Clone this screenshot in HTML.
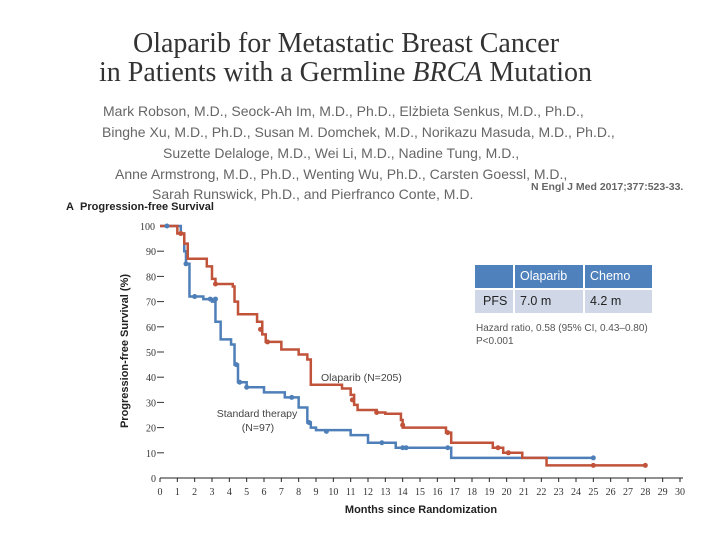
<!DOCTYPE html>
<html><head><meta charset="utf-8"><style>
body{margin:0;background:#fff;}
#wrap{position:relative;width:720px;height:540px;overflow:hidden;background:#fff;font-family:"Liberation Sans",sans-serif;}
.t{position:absolute;white-space:nowrap;}
.au{position:absolute;white-space:nowrap;font-size:14px;color:#666;}
</style></head><body>
<div id="wrap">
<div class="t" style="left:133px;top:28px;font:28px 'Liberation Serif',serif;color:#333;">Olaparib for Metastatic Breast Cancer</div>
<div class="t" style="left:99px;top:57px;font:28px 'Liberation Serif',serif;color:#333;">in Patients with a Germline <i>BRCA</i> Mutation</div>
<div>
<div class="au" style="left:103px;top:103px;">Mark Robson, M.D., Seock-Ah Im, M.D., Ph.D., Elżbieta Senkus, M.D., Ph.D.,</div>
<div class="au" style="left:102px;top:124px;">Binghe Xu, M.D., Ph.D., Susan M. Domchek, M.D., Norikazu Masuda, M.D., Ph.D.,</div>
<div class="au" style="left:163px;top:145px;">Suzette Delaloge, M.D., Wei Li, M.D., Nadine Tung, M.D.,</div>
<div class="au" style="left:115px;top:166px;">Anne Armstrong, M.D., Ph.D., Wenting Wu, Ph.D., Carsten Goessl, M.D.,</div>
<div class="au" style="left:152px;top:186px;">Sarah Runswick, Ph.D., and Pierfranco Conte, M.D.</div>
</div>
<div class="t" style="left:531px;top:181px;font-size:10.5px;font-weight:bold;color:#666;">N Engl J Med 2017;377:523-33.</div>
<div class="t" style="left:66px;top:201px;font-size:11px;font-weight:bold;color:#222;">A&nbsp;&nbsp;Progression-free Survival</div>
<svg id="chart" width="720" height="540" style="position:absolute;left:0;top:0"></svg>
<div style="position:absolute;left:475px;top:265px;font-size:12.5px;color:#222;">
<div style="position:absolute;left:0;top:0;width:38px;height:23px;background:#4f81bd"></div>
<div style="position:absolute;left:40px;top:0;width:68px;height:23px;background:#4f81bd;color:#fff;line-height:23px;padding-left:5px;box-sizing:border-box">Olaparib</div>
<div style="position:absolute;left:110px;top:0;width:67px;height:23px;background:#4f81bd;color:#fff;line-height:23px;padding-left:5px;box-sizing:border-box">Chemo</div>
<div style="position:absolute;left:0;top:25px;width:38px;height:23px;background:#d0d8e8;line-height:23px;padding-left:8px;box-sizing:border-box">PFS</div>
<div style="position:absolute;left:40px;top:25px;width:68px;height:23px;background:#d0d8e8;line-height:23px;padding-left:5px;box-sizing:border-box">7.0 m</div>
<div style="position:absolute;left:110px;top:25px;width:67px;height:23px;background:#d0d8e8;line-height:23px;padding-left:5px;box-sizing:border-box">4.2 m</div>
</div>
<div class="t" style="left:476px;top:322px;font-size:10px;line-height:13px;color:#555;">Hazard ratio, 0.58 (95% CI, 0.43–0.80)<br>P&lt;0.001</div>
</div>
<script>
const xTicks=[0,1,2,3,4,5,6,7,8,9,10,11,12,13,14,15,16,17,18,19,20,21,22,23,24,25,26,27,28,29,30];
const yTicks=[0,10,20,30,40,50,60,70,80,90,100];
const olaT=[0,1.0,1.4,1.6,2.7,3.0,3.2,4.2,4.3,4.5,5.6,5.9,6.1,7.0,8.0,8.5,8.7,10.5,11.0,11.2,11.4,12.5,13.0,13.9,14.0,16.5,16.8,19.2,19.8,20.9,22.3,28.0];
const olaS=[100,97,93,87,84,79,77,76,70,65,62,57,54,51,49,47,37,35.5,33,29,27,26,25.5,23,20,18,14,12,10,8,5,5];
const stdT=[0,1.2,1.4,1.5,1.7,2.5,3.0,3.2,3.5,4.1,4.3,4.5,5.0,6.0,7.2,8.0,8.5,8.7,9.0,11.0,12.0,13.6,16.5,16.8,25.0];
const stdS=[100,97,90,85,72,71,70,62,55,53,45,38,36,34,32,28,22,20,19,17,14,12,12,8,8];
const olaCens=[[1.2,97],[3.2,77],[5.8,59],[6.2,54],[11.1,31],[12.5,26],[14.0,21],[16.6,18],[19.5,12],[20.1,10],[25,5],[28,5]];
const stdCens=[[0.4,100],[1.5,85],[2.0,72],[2.9,71],[3.2,71],[4.4,45],[4.6,38],[5.0,36],[7.6,32],[8.6,22],[9.6,18.5],[12.8,14],[14.0,12],[14.2,12],[16.6,12],[25,8]];
const X=v=>160+v*(520/30);
const Y=v=>478-v*2.52;
const svg=document.getElementById('chart');
const NS='http://www.w3.org/2000/svg';
function mk(tag,attrs){const e=document.createElementNS(NS,tag);for(const k in attrs)e.setAttribute(k,attrs[k]);svg.appendChild(e);return e;}
let ax=mk('line',{x1:X(0),x2:X(30)+3,y1:Y(0),y2:Y(0),stroke:'#222','stroke-width':1});


xTicks.forEach(t=>{
 const l=mk('line',{x1:X(t),x2:X(t),y1:Y(0),y2:Y(0)+4,stroke:'#222'});
 
 
 const tx=mk('text',{x:X(t),y:Y(0)+17,'text-anchor':'middle','font-size':10,fill:'#333','font-family':'Liberation Serif, serif'});
 tx.textContent=t;
 
 
});
yTicks.forEach(t=>{
 if(t>0&&t<100){
 const l=mk('line',{x1:157,x2:164,y1:Y(t),y2:Y(t),stroke:'#333'});
 
 }
 const tx=mk('text',{x:t===100?155:156,y:Y(t)+4,'text-anchor':'end','font-size':10,fill:'#333','font-family':'Liberation Serif, serif'});
 tx.textContent=t;
 
 
});
const yt=mk('text',{x:0,y:0,transform:'translate(128,351) rotate(-90)','text-anchor':'middle','font-size':11,'font-weight':'bold',fill:'#222'});
yt.textContent='Progression-free Survival (%)';


const xt=mk('text',{x:421,y:513,'text-anchor':'middle','font-size':11,'font-weight':'bold',fill:'#222'});
xt.textContent='Months since Randomization';


function stepPath(T,S){let d='M'+X(T[0])+','+Y(S[0]);for(let i=1;i<T.length;i++){d+=' H'+X(T[i])+' V'+Y(S[i]);}return d;}
const ps=mk('path',{d:stepPath(stdT,stdS),fill:'none',stroke:'#4f7fb8','stroke-width':2.5});


const po=mk('path',{d:stepPath(olaT,olaS),fill:'none',stroke:'#c0533a','stroke-width':2.5});


stdCens.forEach(c=>{const e=mk('circle',{cx:X(c[0]),cy:Y(c[1]),r:2.5,fill:'#4f7fb8'});
 
 });
olaCens.forEach(c=>{const e=mk('circle',{cx:X(c[0]),cy:Y(c[1]),r:2.5,fill:'#c0533a'});
 
 });
const lo=mk('text',{x:321,y:381,'font-size':10.5,fill:'#444'});
lo.textContent='Olaparib (N=205)';


const ls1=mk('text',{x:257,y:417,'text-anchor':'middle','font-size':10.5,fill:'#444'});
ls1.textContent='Standard therapy';


const ls2=mk('text',{x:258,y:431,'text-anchor':'middle','font-size':10.5,fill:'#444'});
ls2.textContent='(N=97)';


</script>
</body></html>
